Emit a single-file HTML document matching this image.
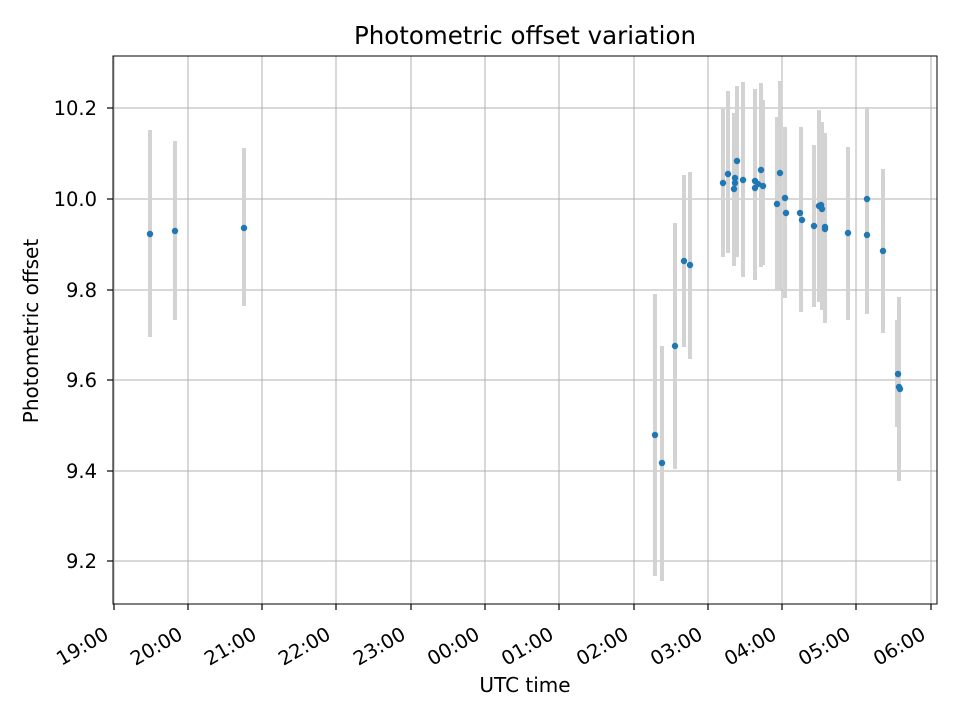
<!DOCTYPE html>
<html><head><meta charset="utf-8"><style>body{margin:0;background:#fff}svg{display:block}text{font-family:"DejaVu Sans","Liberation Sans",sans-serif;fill:#000}</style></head>
<body>
<svg width="960" height="720" viewBox="0 0 960 720">
<rect width="960" height="720" fill="#fff"/>
<g stroke="#b0b0b0" stroke-width="1">
<line x1="114" y1="56" x2="114" y2="604"/><line x1="188" y1="56" x2="188" y2="604"/><line x1="262" y1="56" x2="262" y2="604"/><line x1="336" y1="56" x2="336" y2="604"/><line x1="411" y1="56" x2="411" y2="604"/><line x1="485" y1="56" x2="485" y2="604"/><line x1="559" y1="56" x2="559" y2="604"/><line x1="634" y1="56" x2="634" y2="604"/><line x1="708" y1="56" x2="708" y2="604"/><line x1="782" y1="56" x2="782" y2="604"/><line x1="856" y1="56" x2="856" y2="604"/><line x1="931" y1="56" x2="931" y2="604"/>
<line x1="113" y1="108" x2="937" y2="108"/><line x1="113" y1="199" x2="937" y2="199"/><line x1="113" y1="290" x2="937" y2="290"/><line x1="113" y1="380" x2="937" y2="380"/><line x1="113" y1="471" x2="937" y2="471"/><line x1="113" y1="561" x2="937" y2="561"/>
</g>
<g stroke="#d3d3d3" stroke-width="4">
<line x1="150" y1="130" x2="150" y2="337"/><line x1="175" y1="141" x2="175" y2="320"/><line x1="244" y1="148" x2="244" y2="306"/>
<line x1="655" y1="294" x2="655" y2="576"/><line x1="662" y1="346" x2="662" y2="581"/><line x1="675" y1="223" x2="675" y2="469"/><line x1="684" y1="175" x2="684" y2="347"/><line x1="690" y1="172" x2="690" y2="359"/>
<line x1="723" y1="109" x2="723" y2="257"/><line x1="728" y1="91" x2="728" y2="253"/><line x1="734" y1="113" x2="734" y2="266"/><line x1="737" y1="86" x2="737" y2="257"/><line x1="743" y1="82" x2="743" y2="277"/><line x1="755" y1="89" x2="755" y2="280"/><line x1="761" y1="83" x2="761" y2="267"/><line x1="763" y1="100" x2="763" y2="265"/>
<line x1="777" y1="117" x2="777" y2="290"/><line x1="780" y1="81" x2="780" y2="290"/><line x1="785" y1="127" x2="785" y2="298"/>
<line x1="801" y1="127" x2="801" y2="312"/><line x1="814" y1="145" x2="814" y2="307"/><line x1="819" y1="110" x2="819" y2="302"/><line x1="822" y1="122" x2="822" y2="310"/><line x1="825" y1="133" x2="825" y2="323"/>
<line x1="848" y1="147" x2="848" y2="320"/><line x1="867" y1="107" x2="867" y2="314"/><line x1="883" y1="169" x2="883" y2="333"/>
<line x1="897" y1="320" x2="897" y2="427"/><line x1="899" y1="297" x2="899" y2="481"/>
</g>
<g fill="#1f77b4">
<circle cx="150" cy="234" r="3.2"/><circle cx="175" cy="231" r="3.2"/><circle cx="244" cy="228" r="3.2"/>
<circle cx="655" cy="435" r="3.2"/><circle cx="662" cy="463" r="3.2"/><circle cx="675" cy="346" r="3.2"/><circle cx="684" cy="261" r="3.2"/><circle cx="690" cy="265" r="3.2"/>
<circle cx="723" cy="183" r="3.2"/><circle cx="728" cy="174" r="3.2"/><circle cx="734" cy="189" r="3.2"/><circle cx="735" cy="178" r="3.2"/><circle cx="735" cy="183" r="3.2"/><circle cx="737" cy="161" r="3.2"/><circle cx="743" cy="180" r="3.2"/><circle cx="755" cy="181" r="3.2"/><circle cx="755" cy="188" r="3.2"/><circle cx="758" cy="184" r="3.2"/><circle cx="761" cy="170" r="3.2"/><circle cx="763" cy="186" r="3.2"/>
<circle cx="780" cy="173" r="3.2"/><circle cx="777" cy="204" r="3.2"/><circle cx="785" cy="198" r="3.2"/><circle cx="786" cy="213" r="3.2"/>
<circle cx="800" cy="213" r="3.2"/><circle cx="802" cy="220" r="3.2"/><circle cx="814" cy="226" r="3.2"/><circle cx="819" cy="206" r="3.2"/><circle cx="821" cy="205" r="3.2"/><circle cx="822" cy="209" r="3.2"/><circle cx="825" cy="227" r="3.2"/><circle cx="825" cy="229" r="3.2"/>
<circle cx="848" cy="233" r="3.2"/><circle cx="867" cy="199" r="3.2"/><circle cx="867" cy="235" r="3.2"/><circle cx="883" cy="251" r="3.2"/>
<circle cx="898" cy="374" r="3.2"/><circle cx="899" cy="387" r="3.2"/><circle cx="900" cy="389" r="3.2"/>
</g>
<rect x="113" y="56" width="824" height="548" fill="none" stroke="#000" stroke-width="1"/>
<g stroke="#000" stroke-width="1.2">
<line x1="114" y1="604" x2="114" y2="610"/><line x1="188" y1="604" x2="188" y2="610"/><line x1="262" y1="604" x2="262" y2="610"/><line x1="336" y1="604" x2="336" y2="610"/><line x1="411" y1="604" x2="411" y2="610"/><line x1="485" y1="604" x2="485" y2="610"/><line x1="559" y1="604" x2="559" y2="610"/><line x1="634" y1="604" x2="634" y2="610"/><line x1="708" y1="604" x2="708" y2="610"/><line x1="782" y1="604" x2="782" y2="610"/><line x1="856" y1="604" x2="856" y2="610"/><line x1="931" y1="604" x2="931" y2="610"/>
<line x1="107" y1="108" x2="113" y2="108"/><line x1="107" y1="199" x2="113" y2="199"/><line x1="107" y1="290" x2="113" y2="290"/><line x1="107" y1="380" x2="113" y2="380"/><line x1="107" y1="471" x2="113" y2="471"/><line x1="107" y1="561" x2="113" y2="561"/>
</g>
<g font-size="19.5" text-anchor="end">
<text x="97" y="115">10.2</text><text x="97" y="206">10.0</text><text x="97" y="297">9.8</text><text x="97" y="387">9.6</text><text x="97" y="478">9.4</text><text x="97" y="568">9.2</text>
</g>
<g font-size="19.5" text-anchor="end">
<text transform="translate(110,638) rotate(-30)">19:00</text><text transform="translate(184,638) rotate(-30)">20:00</text><text transform="translate(258,638) rotate(-30)">21:00</text><text transform="translate(332,638) rotate(-30)">22:00</text><text transform="translate(407,638) rotate(-30)">23:00</text><text transform="translate(481,638) rotate(-30)">00:00</text><text transform="translate(555,638) rotate(-30)">01:00</text><text transform="translate(630,638) rotate(-30)">02:00</text><text transform="translate(704,638) rotate(-30)">03:00</text><text transform="translate(778,638) rotate(-30)">04:00</text><text transform="translate(852,638) rotate(-30)">05:00</text><text transform="translate(927,638) rotate(-30)">06:00</text>
</g>
<text x="525" y="692" font-size="20" text-anchor="middle">UTC time</text>
<text transform="translate(38,331) rotate(-90)" font-size="20" text-anchor="middle">Photometric offset</text>
<text x="525" y="44" font-size="24.5" text-anchor="middle">Photometric offset variation</text>
</svg>
</body></html>
